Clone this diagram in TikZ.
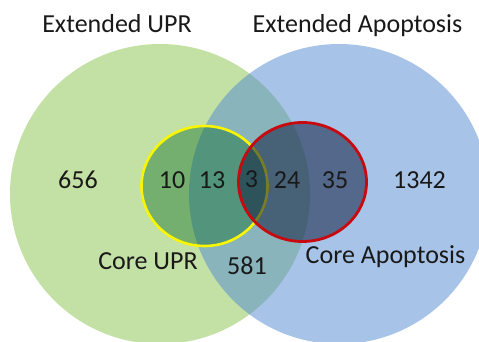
\documentclass[tikz,border=0pt]{standalone}
\usepackage{fontspec}
\setmainfont{Carlito}
\definecolor{extgreen}{RGB}{195,225,165}
\definecolor{extblue}{RGB}{81,137,209}
\definecolor{coregreen}{RGB}{0,100,30}
\definecolor{corered}{RGB}{17,30,64}
\definecolor{ringyellow}{RGB}{250,245,0}
\definecolor{ringred}{RGB}{200,10,15}
\tikzset{
  lbl/.style={inner sep=0pt, anchor=base, font=\fontsize{26}{30}\selectfont, text=black!90},
}
\begin{document}
\begin{tikzpicture}[x=1pt,y=-1pt]
\useasboundingbox (0,0) rectangle (479,341);
\clip (0,0) rectangle (479,341);
\fill[white] (0,0) rectangle (479,341);
\fill[extgreen] (160,194) circle[radius=150pt];
\fill[extblue, fill opacity=0.5] (339,194) circle[radius=150pt];
\filldraw[fill=coregreen, fill opacity=0.4, draw=ringyellow, line width=2.6pt] (204.5,186) ellipse[x radius=63pt, y radius=60pt];
\filldraw[fill=corered, fill opacity=0.55, draw=ringred, line width=2.8pt] (302.5,182) ellipse[x radius=64pt, y radius=59.5pt];
\node[lbl] (tUPR) at (117,32) {Extended UPR};
\node[lbl] (tApo) at (357.5,32) {Extended Apoptosis};
\node[lbl] (n656) at (78,188) {656};
\node[lbl] (n10) at (172,188) {10};
\node[lbl] (n13) at (212,188) {13};
\node[lbl] (n3) at (251.5,187) {3};
\node[lbl] (n24) at (287,188) {24};
\node[lbl] (n35) at (335,188) {35};
\node[lbl] (n1342) at (419.5,188) {1342};
\node[lbl] (cUPR) at (148,269) {Core UPR};
\node[lbl] (n581) at (247,274) {581};
\node[lbl] (cApo) at (385.5,263) {Core Apoptosis};
\end{tikzpicture}
\end{document}
